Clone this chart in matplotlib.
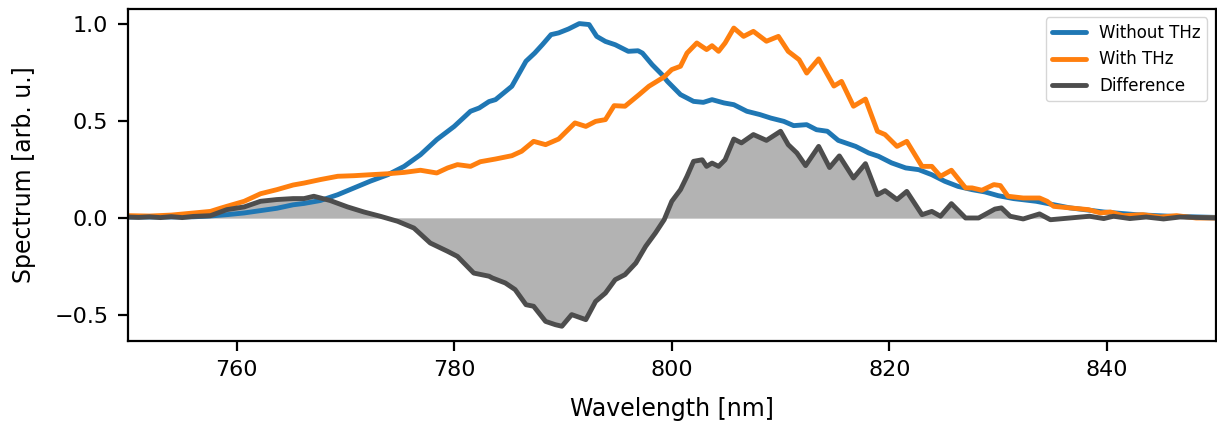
import matplotlib
matplotlib.use("Agg")
import matplotlib.pyplot as plt
import numpy as np

# Without THz
wl_off = [750, 752, 754, 756, 757.5, 759.1, 760.7, 762.2, 763.7, 765.2, 766.2, 767.7, 769.3,
          770.8, 772.3, 773.9, 775.4, 776.9, 778.4, 780.0, 781.5, 782.3, 783.2, 783.8, 785.3,
          786.6, 787.4, 788.1, 788.9, 789.6, 790.5, 791.5, 792.4, 793.1, 793.9, 794.8, 796.0,
          796.9, 797.3, 798.2, 799.1, 799.6, 800.8, 802.0, 802.9, 803.7, 804.8, 805.7, 806.9,
          808.1, 809.1, 810.3, 811.2, 812.4, 813.3, 814.3, 815.3, 816.9, 818.1, 819.0, 820.2,
          821.5, 822.7, 823.9, 825.1, 826.3, 827.6, 828.8, 830.0, 831.4, 833.5, 836.6, 839.7,
          842.7, 845.8, 850]
spec_off = [0.005, 0.005, 0.005, 0.006, 0.010, 0.017, 0.026, 0.038, 0.050, 0.068, 0.075, 0.090, 0.120,
            0.155, 0.190, 0.223, 0.266, 0.326, 0.404, 0.472, 0.550, 0.567, 0.600, 0.610, 0.679,
            0.808, 0.850, 0.893, 0.945, 0.954, 0.974, 1.002, 0.997, 0.936, 0.910, 0.893, 0.859,
            0.862, 0.850, 0.790, 0.739, 0.704, 0.636, 0.601, 0.596, 0.610, 0.593, 0.584, 0.550,
            0.533, 0.515, 0.498, 0.476, 0.481, 0.455, 0.447, 0.400, 0.369, 0.335, 0.318, 0.284,
            0.258, 0.249, 0.223, 0.189, 0.163, 0.146, 0.134, 0.115, 0.100, 0.086, 0.052, 0.031,
            0.017, 0.009, 0.003]

# With THz
wl_on = [750, 752, 754, 756.1, 757.6, 758.5, 759.1, 760.7, 762.2, 763.7, 765.2, 766.2, 767.7,
         769.3, 770.8, 772.3, 773.9, 775.4, 776.9, 778.4, 779.4, 780.3, 781.5, 782.4, 783.8,
         785.3, 786.2, 787.3, 788.4, 789.6, 791.1, 792.1, 793.0, 793.9, 794.7, 795.7, 797.0,
         797.9, 799.3, 800.0, 800.8, 801.4, 802.3, 803.2, 803.7, 804.3, 804.9, 805.7, 806.6,
         807.5, 808.7, 809.8, 810.7, 811.7, 812.4, 813.5, 814.2, 814.9, 815.6, 816.7, 817.8,
         818.9, 819.6, 820.7, 821.6, 823.0, 823.9, 824.7, 825.7, 827.0, 827.6, 828.5, 829.6,
         830.2, 830.9, 832.3, 833.8, 834.5, 835.1, 836.6, 838.3, 839.4, 840.3, 841.5, 843.3,
         844.9, 846.4, 848.2, 850]
spec_on = [0.012, 0.010, 0.015, 0.026, 0.034, 0.050, 0.060, 0.086, 0.125, 0.146, 0.170, 0.180, 0.198,
           0.215, 0.218, 0.223, 0.228, 0.235, 0.246, 0.232, 0.258, 0.275, 0.266, 0.290, 0.304,
           0.321, 0.344, 0.395, 0.378, 0.407, 0.490, 0.472, 0.498, 0.507, 0.579, 0.576, 0.636,
           0.679, 0.727, 0.765, 0.782, 0.850, 0.902, 0.868, 0.888, 0.859, 0.902, 0.979, 0.936,
           0.962, 0.911, 0.936, 0.859, 0.816, 0.747, 0.820, 0.750, 0.680, 0.704, 0.576, 0.613,
           0.447, 0.430, 0.369, 0.395, 0.266, 0.266, 0.215, 0.246, 0.155, 0.155, 0.143, 0.172,
           0.167, 0.112, 0.103, 0.103, 0.086, 0.060, 0.052, 0.043, 0.026, 0.031, 0.012, 0.017,
           0.005, 0.012, 0.000, 0.000]

# Difference
wl_diff = [750, 751, 752, 753, 754, 755, 756, 757.6, 759.1, 760.7, 762.2, 763.7, 765.2, 766.2,
           767.1, 768.6, 770.2, 771.7, 773.2, 774.8, 776.3, 777.8, 779.4, 780.3, 781.8, 783.2,
           783.5, 784.7, 785.6, 786.6, 787.3, 788.4, 789.3, 789.9, 790.8, 792.1, 793.0, 793.9,
           794.8, 795.7, 796.7, 797.6, 798.5, 799.3, 800.0, 800.8, 801.4, 802.0, 802.8, 803.2,
           803.7, 804.3, 804.9, 805.7, 806.4, 807.5, 808.7, 810.0, 810.7, 811.5, 812.3, 813.5,
           814.5, 815.4, 816.7, 817.8, 818.9, 819.6, 820.7, 821.6, 823.0, 823.9, 824.7, 825.7,
           827.0, 828.2, 829.7, 830.3, 831.1, 832.3, 833.8, 834.8, 836.6, 838.4, 839.7, 840.6,
           842.1, 843.6, 845.2, 846.7, 850]
spec_diff = [0.005, 0.003, 0.006, 0.002, 0.007, 0.002, 0.008, 0.012, 0.043, 0.057, 0.086, 0.095, 0.100, 0.100,
             0.112, 0.090, 0.057, 0.031, 0.009, -0.017, -0.052, -0.129, -0.172, -0.198, -0.284, -0.300,
             -0.309, -0.335, -0.369, -0.447, -0.455, -0.533, -0.550, -0.558, -0.498, -0.524, -0.430, -0.387,
             -0.318, -0.292, -0.232, -0.146, -0.077, -0.009, 0.086, 0.146, 0.215, 0.292, 0.300, 0.266,
             0.283, 0.266, 0.300, 0.407, 0.387, 0.430, 0.400, 0.447, 0.378, 0.335, 0.270, 0.369,
             0.260, 0.320, 0.206, 0.280, 0.120, 0.141, 0.095, 0.137, 0.017, 0.034, 0.009, 0.074,
             0.000, 0.000, 0.046, 0.052, 0.009, -0.005, 0.021, -0.009, 0.000, 0.009, -0.003, 0.009,
             -0.003, 0.005, -0.005, 0.005, 0.000]

fig = plt.figure(figsize=(12.17, 4.30), dpi=100)
ax = fig.add_axes([0.105, 0.207, 0.894, 0.772])

ax.fill_between(wl_diff, spec_diff, 0, color="#b3b3b3", lw=0.5, edgecolor="#c8c8c8")
kw = dict(lw=3.5, solid_joinstyle="round", solid_capstyle="round")
ax.plot(wl_off, spec_off, color="#1f77b4", label="Without THz", **kw)
ax.plot(wl_on, spec_on, color="#ff7f0e", label="With THz", **kw)
ax.plot(wl_diff, spec_diff, color="#4d4d4d", label="Difference", **kw)

ax.set_xlim(750, 850)
ax.set_ylim(-0.634, 1.077)
ax.set_xticks([760, 780, 800, 820, 840])
ax.set_yticks([-0.5, 0.0, 0.5, 1.0])
ax.tick_params(labelsize=16, width=1.6, length=7, pad=7)
for s in ax.spines.values():
    s.set_linewidth(1.6)
ax.set_xlabel("Wavelength [nm]", fontsize=17, labelpad=12)
ax.set_ylabel("Spectrum [arb. u.]", fontsize=17, labelpad=13)
ax.legend(loc="upper right", fontsize=12)

fig.savefig("out.png", dpi=100)
